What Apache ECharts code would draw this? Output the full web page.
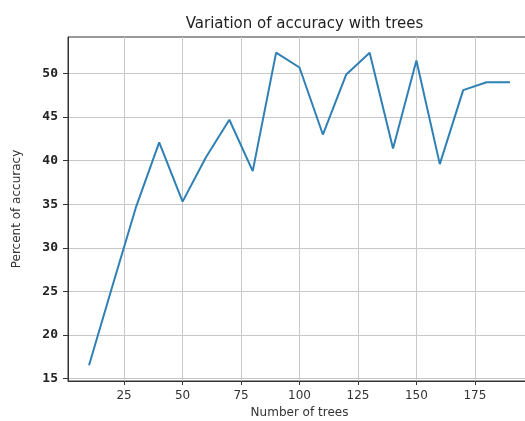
<!DOCTYPE html>
<html>
<head>
<meta charset="utf-8">
<script src="https://cdn.jsdelivr.net/npm/echarts@6/dist/echarts.min.js"></script>
<style>
html,body{margin:0;padding:0;background:#fff;}
#chart{width:525px;height:421px;}
</style>
</head>
<body>
<div id="chart"></div>
<script>
const trees = [10, 20, 30, 40, 50, 60, 70, 80, 90, 100, 110, 120, 130, 140, 150, 160, 170, 180, 190];
const accuracy = [16.5, 25.6, 34.6, 42.1, 35.3, 40.4, 44.7, 38.8, 52.4, 50.7, 43.0, 49.9, 52.4, 41.4, 51.5, 39.6, 48.1, 49.0, 49.0];
const xTicks = [25, 50, 75, 100, 125, 150, 175];
const yTicks = [15, 20, 25, 30, 35, 40, 45, 50];
const titleText = 'Variation of accuracy with trees';
const xName = 'Number of trees';
const yName = 'Percent of accuracy';

const chart = echarts.init(document.getElementById('chart'), null, {renderer: 'canvas'});
chart.setOption({
  backgroundColor: '#fff',
  animation: false,
  title: {
    text: titleText,
    left: 299.5,
    textAlign: 'center',
    top: 12,
    textStyle: {fontFamily: 'DejaVu Sans', fontSize: 15, fontWeight: 'normal', color: '#222'}
  },
  grid: {
    left: 68, top: 37, width: 463, height: 344,
    outerBoundsMode: 'none',
    containLabel: false,
    show: true, borderColor: '#333', borderWidth: 1, backgroundColor: 'transparent'
  },
  xAxis: {
    type: 'value',
    min: 1, max: 199,
    name: xName,
    nameLocation: 'middle',
    nameGap: 26,
    nameTextStyle: {fontFamily: 'DejaVu Sans', fontSize: 12, color: '#333'},
    axisLine: {show: true, onZero: false, lineStyle: {color: '#333', width: 1}},
    axisTick: {show: true, length: 4, customValues: xTicks, lineStyle: {color: '#333'}},
    axisLabel: {customValues: xTicks, margin: 9, fontFamily: 'DejaVu Sans', fontSize: 12, color: '#333'},
    splitLine: {show: true, lineStyle: {color: '#c8c8c8', width: 1}}
  },
  yAxis: {
    type: 'value',
    min: 14.7, max: 54.2,
    name: yName,
    nameLocation: 'middle',
    nameGap: 45,
    nameTextStyle: {fontFamily: 'DejaVu Sans', fontSize: 12, color: '#333'},
    axisLine: {show: true, onZero: false, lineStyle: {color: '#333', width: 1}},
    axisTick: {show: true, length: 5, customValues: yTicks, lineStyle: {color: '#333'}},
    axisLabel: {customValues: yTicks, margin: 10, fontFamily: 'DejaVu Sans Mono', fontWeight: 'bold', fontSize: 13, color: '#222'},
    splitLine: {show: true, lineStyle: {color: '#c8c8c8', width: 1}}
  },
  series: [{
    type: 'line',
    data: trees.map((t, i) => [t, accuracy[i]]),
    showSymbol: false,
    lineStyle: {color: '#2f80b4', width: 2},
    itemStyle: {color: '#2f80b4'}
  }]
});
</script>
</body>
</html>
